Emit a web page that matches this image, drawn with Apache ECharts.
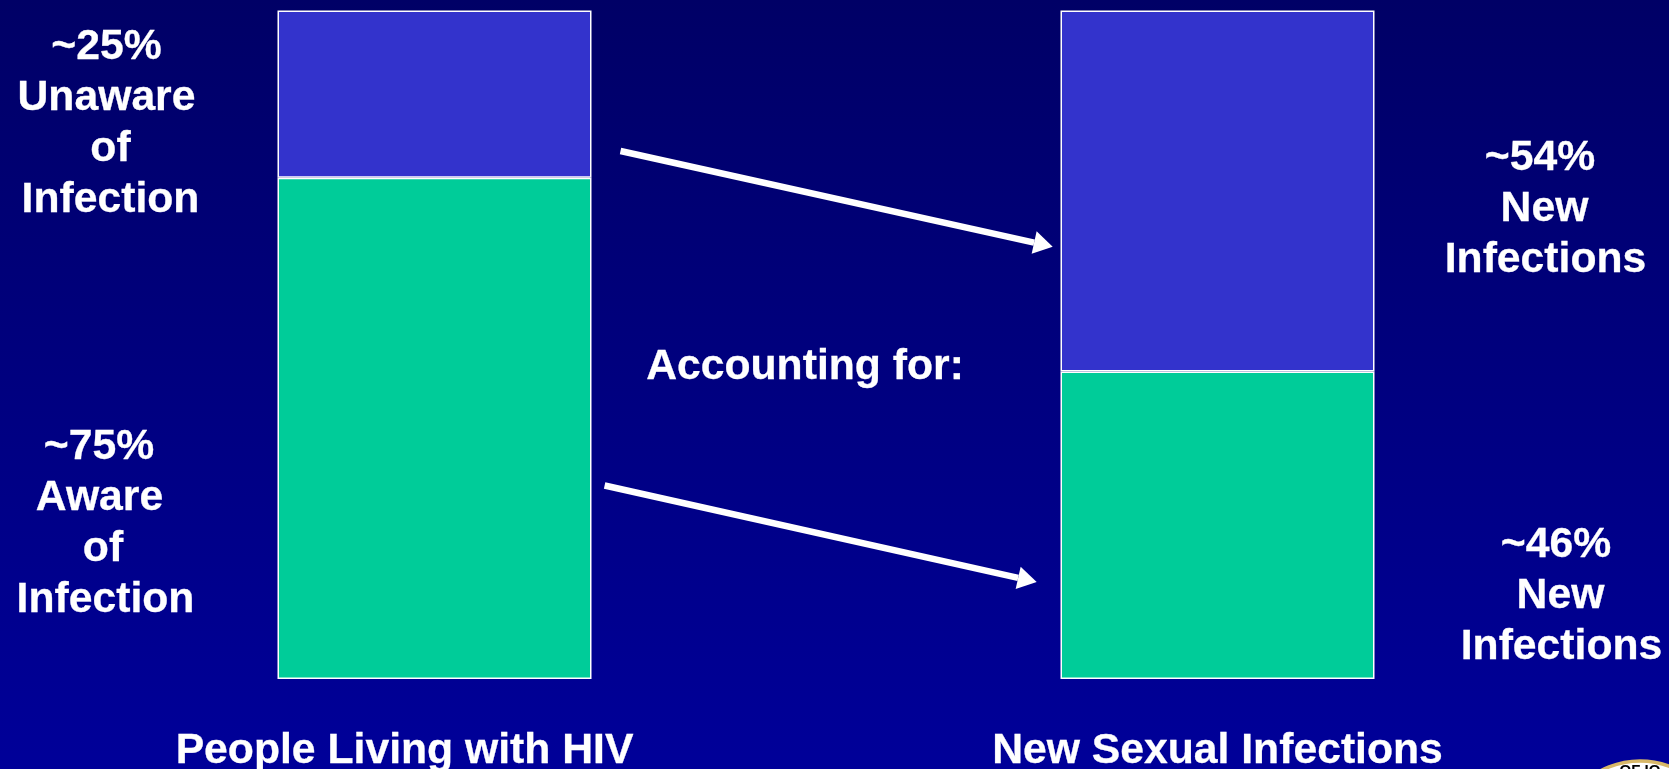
<!DOCTYPE html>
<html><head><meta charset="utf-8">
<style>html,body{margin:0;padding:0;background:#000080}#c{width:1669px;height:769px}</style>
<script src="https://cdn.jsdelivr.net/npm/echarts@6/dist/echarts.min.js"></script>
</head><body><div id="c"></div>
<script>
const categories = ['People Living with HIV', 'New Sexual Infections'];
const awareShare = [75, 46];
const unawareShare = [25, 54];
const unawareNote = ['~25%', 'Unaware', 'of', 'Infection'];
const awareNote = ['~75%', 'Aware', 'of', 'Infection'];
const newUnawareNote = ['~54%', 'New', 'Infections'];
const newAwareNote = ['~46%', 'New', 'Infections'];
const middleNote = 'Accounting for:';

const font = '"Liberation Sans", Arial, sans-serif';
const FS = 42.7, LH = 51, WEIGHT = 0.3;
const txt = (t, x, y) => ({type: 'text', x, y, z: 4, style: {text: t, fill: '#fff', stroke: '#fff', lineWidth: WEIGHT, font: 'bold ' + FS + 'px ' + font, align: 'center', verticalAlign: 'middle'}});
const column = (lines, xs, y0) => lines.map((t, i) => txt(t, xs[i], y0 + i * LH));
const arrowPaths = [
  [[620.5, 151], [1052.7, 246.7]],
  [[604.6, 485.5], [1036.7, 582]]
];
function arrowEls(p) {
  const [a, b] = p, dx = b[0] - a[0], dy = b[1] - a[1], L = Math.hypot(dx, dy);
  const ux = dx / L, uy = dy / L, hl = 19, hw = 11.5;
  const bx = b[0] - ux * hl, by = b[1] - uy * hl;
  return [
    {type: 'line', z: 4, shape: {x1: a[0], y1: a[1], x2: bx, y2: by}, style: {stroke: '#fff', lineWidth: 6.5}},
    {type: 'polygon', z: 4, shape: {points: [b, [bx - uy * hw, by + ux * hw], [bx + uy * hw, by - ux * hw]]}, style: {fill: '#fff'}}
  ];
}
const chart = echarts.init(document.getElementById('c'), null, {renderer: 'canvas'});
chart.setOption({
  animation: false,
  backgroundColor: {type: 'linear', x: 0, y: 0, x2: 0, y2: 1, colorStops: [{offset: 0, color: '#000066'}, {offset: 1, color: '#000099'}]},
  grid: {left: 43, width: 1566, top: 10.5, height: 668.5, outerBoundsMode: 'none', containLabel: false},
  xAxis: {type: 'category', data: categories, axisLine: {show: false}, axisTick: {show: false},
    axisLabel: {margin: 51, interval: 0,
      formatter: (v, i) => (i === 0 ? '{a|' + v + '}' : '{b|' + v + '}'),
      rich: {
        a: {color: '#fff', fontFamily: font, fontWeight: 'bold', fontSize: FS, textBorderColor: '#fff', textBorderWidth: WEIGHT, padding: [0, 60, 0, 0]},
        b: {color: '#fff', fontFamily: font, fontWeight: 'bold', fontSize: FS, textBorderColor: '#fff', textBorderWidth: WEIGHT}
      }}},
  yAxis: {type: 'value', min: 0, max: 100, show: false},
  series: [
    {name: 'Aware', type: 'bar', stack: 't', barWidth: 314, data: awareShare, itemStyle: {color: '#00CC99', borderColor: '#fff', borderWidth: 1.5}},
    {name: 'Unaware', type: 'bar', stack: 't', barWidth: 314, data: unawareShare, itemStyle: {color: '#3333CC', borderColor: '#fff', borderWidth: 1.5}}
  ],
  graphic: [
    ...column(unawareNote, [106.5, 106.5, 110.5, 110.5], 47),
    ...column(awareNote, [99, 99.5, 103, 105.5], 447),
    ...column(newUnawareNote, [1540, 1544.5, 1545.5], 158.5),
    ...column(newAwareNote, [1556, 1560.5, 1561.5], 545),
    txt(middleNote, 805, 367),
    ...arrowPaths.flatMap(arrowEls),
    {type: 'circle', z: 5, shape: {cx: 1640, cy: 845, r: 84}, style: {fill: '#fff', stroke: '#D8B868', lineWidth: 3.5}},
    {type: 'text', z: 6, x: 1640, y: 771, style: {text: 'OF IO', fill: '#000', font: 'bold 15px ' + font, align: 'center', verticalAlign: 'middle'}}
  ]
});
</script></body></html>
